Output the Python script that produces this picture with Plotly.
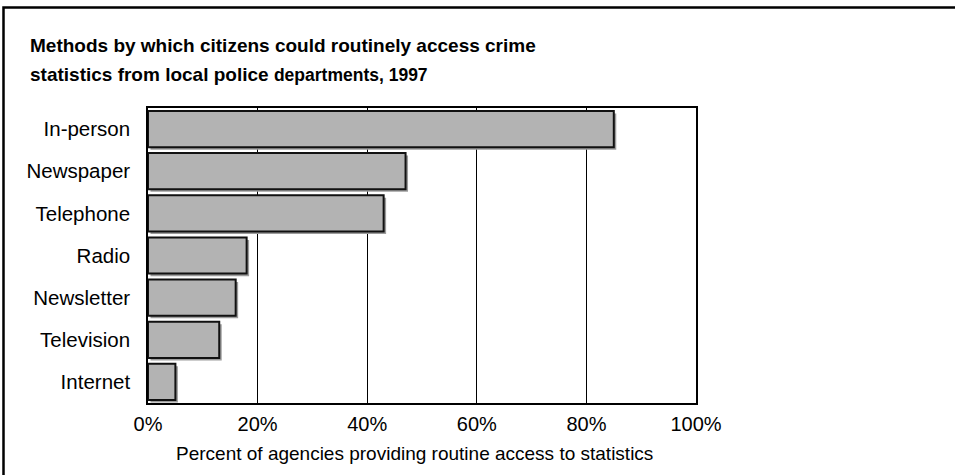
import plotly.graph_objects as go

categories = ["In-person", "Newspaper", "Telephone", "Radio", "Newsletter", "Television", "Internet"]
values = [85, 47, 43, 18, 16, 13, 5]
tick_vals = [0, 20, 40, 60, 80, 100]
tick_text = ["0%", "20%", "40%", "60%", "80%", "100%"]

title_line1 = "<b>Methods by which citizens could routinely access crime</b>"
title_line2 = ("<b>statistics from local police </b>"
               "<b><span style='font-size:17.5px'>departments, 1997</span></b>")
x_title = "Percent of agencies providing routine access to statistics"

W, H = 955, 475
L, R, T, B = 148, 259, 108, 72
pw, ph = W - L - R, H - T - B

bar_w = 0.86
shift_x = 0.45   # shadow shift in % units (~2.5px)
shift_y = 0.06   # shadow shift in category units (~2.5px)

fig = go.Figure()
# shadow
fig.add_trace(go.Bar(
    y=categories, x=values, orientation="h",
    base=shift_x, width=bar_w, offset=-bar_w / 2 + shift_y,
    marker=dict(color="#9c9c9c", line=dict(width=0)),
    hoverinfo="skip", showlegend=False,
))
# main bars
fig.add_trace(go.Bar(
    y=categories, x=values, orientation="h",
    width=bar_w, offset=-bar_w / 2,
    marker=dict(color="#b3b3b3", line=dict(color="#111111", width=2)),
    showlegend=False,
))

font_family = "Liberation Sans, Arial, sans-serif"
title_font = dict(size=19, family=font_family, color="black")

fig.update_layout(
    width=W, height=H,
    margin=dict(l=L, r=R, t=T, b=B, pad=0),
    paper_bgcolor="white", plot_bgcolor="white",
    barmode="overlay",
    font=dict(family=font_family, color="black", size=20),
    xaxis=dict(range=[0, 100], tickvals=tick_vals, ticktext=tick_text,
               showgrid=True, gridcolor="black", gridwidth=1,
               showline=True, linecolor="black", linewidth=1.5, mirror=True,
               ticks="", ticklabelstandoff=2, zeroline=False,
               tickfont=dict(size=20)),
    yaxis=dict(categoryorder="array", categoryarray=categories, autorange="reversed",
               showline=True, linecolor="black", linewidth=1.5, mirror=True,
               showgrid=False, ticks="", ticklabelstandoff=12,
               tickfont=dict(size=20.5)),
    annotations=[
        dict(text=title_line1, xref="paper", yref="paper",
             x=(28 - L) / pw, y=(H - B - 46) / ph, xanchor="left", yanchor="middle",
             showarrow=False, font=title_font),
        dict(text=title_line2, xref="paper", yref="paper",
             x=(28 - L) / pw, y=(H - B - 74) / ph, xanchor="left", yanchor="middle",
             showarrow=False, font=title_font),
        dict(text=x_title, xref="paper", yref="paper",
             x=(414 - L) / pw, y=(H - B - 453) / ph, xanchor="center", yanchor="middle",
             showarrow=False, font=dict(size=19, family=font_family, color="black")),
    ],
    shapes=[dict(type="rect", xref="paper", yref="paper",
                 x0=(3.5 - L) / pw, x1=(W + 30 - L) / pw,
                 y0=-(B + 30) / ph, y1=(H - B - 7.5) / ph,
                 line=dict(color="black", width=2.5), fillcolor="rgba(0,0,0,0)",
                 layer="below")],
)

fig.write_html("out.html")
